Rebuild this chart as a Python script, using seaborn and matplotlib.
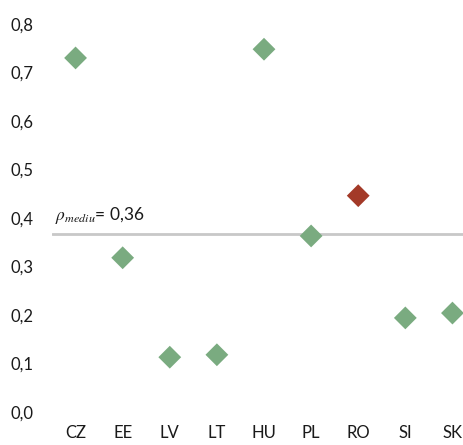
import pandas as pd
import matplotlib.pyplot as plt
import seaborn as sns

# Data
countries = ["CZ", "EE", "LV", "LT", "HU", "PL", "RO", "SI", "SK"]
values = [0.73, 0.318, 0.113, 0.118, 0.748, 0.363, 0.446, 0.194, 0.204]
highlight = ["other", "other", "other", "other", "other", "other", "RO", "other", "other"]
rho_mediu = 0.366
yticks = [0.0, 0.1, 0.2, 0.3, 0.4, 0.5, 0.6, 0.7, 0.8]

df = pd.DataFrame({"country": countries, "value": values, "group": highlight})

sns.set_style("white")
plt.rcParams["font.family"] = ["Lato", "DejaVu Sans"]
plt.rcParams["mathtext.fontset"] = "stix"

fig = plt.figure(figsize=(4.64, 4.45), dpi=100)
ax = fig.add_axes([52 / 464, 33 / 445, 424 / 464, 388 / 445])

ax.axhline(rho_mediu, color="#c8c8c8", lw=2, zorder=1)

sns.scatterplot(
    data=df, x="country", y="value", hue="group",
    palette={"other": "#7aab80", "RO": "#a33a28"},
    marker="D", s=135, linewidth=0, legend=False, zorder=3, ax=ax
)

ax.text(-0.43, rho_mediu + 0.018, r"$\rho_{mediu}$= 0,36", fontsize=12.5,
        ha="left", va="bottom", color="#1a1a1a")

ax.set_xlim(-0.5, 8.5)
ax.set_ylim(0, 0.8)
ax.set_yticks(yticks)
ax.set_yticklabels([f"{t:.1f}".replace(".", ",") for t in yticks])
ax.set_xlabel("")
ax.set_ylabel("")
ax.tick_params(axis="y", length=0, pad=13, labelsize=12, labelcolor="#1a1a1a")
ax.tick_params(axis="x", length=0, pad=9, labelsize=12, labelcolor="#1a1a1a")
sns.despine(ax=ax, left=True, bottom=True)

plt.savefig("out.png", dpi=100)
